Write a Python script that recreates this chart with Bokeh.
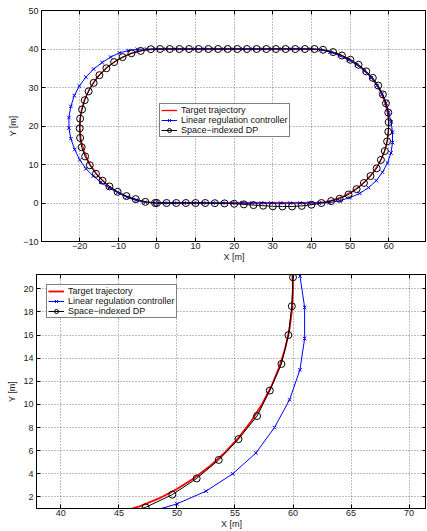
from bokeh.plotting import figure
from bokeh.layouts import column, row
from bokeh.models import Range1d, FixedTicker, LinearAxis
from bokeh.embed import file_html
from bokeh.resources import INLINE

# ---------------- data ----------------
# Target trajectory (stadium track)
target_x = [0, 10, 20, 30, 40, 41.74, 43.47, 45.18, 46.84, 48.45, 50.0, 51.47, 52.86, 54.14, 55.32,
            56.38, 57.32, 58.13, 58.79, 59.32, 59.70, 59.92, 60.0, 59.92, 59.70, 58.79, 57.32, 55.32,
            52.86, 50.0, 46.84, 43.47, 40, 30, 20, 10, 0, -3.47, -6.84, -10.0, -12.86, -15.32, -17.32,
            -18.79, -19.70, -20.0, -19.70, -18.79, -17.32, -15.32, -12.86, -10.0, -6.84, -3.47, 0]
target_y = [0, 0, 0, 0, 0, 0.08, 0.30, 0.68, 1.21, 1.87, 2.68, 3.62, 4.68, 5.86, 7.14,
            8.53, 10.0, 11.55, 13.16, 14.82, 16.53, 18.26, 20.0, 21.74, 23.47, 26.84, 30.0, 32.86,
            35.32, 37.32, 38.79, 39.70, 40, 40, 40, 40, 40, 39.70, 38.79, 37.32, 35.32, 32.86, 30.0,
            26.84, 23.47, 20.0, 16.53, 13.16, 10.0, 7.14, 4.68, 2.68, 1.21, 0.30, 0]

# Linear regulation controller
lin_x = [-0.5, 2.0, 4.5, 7.0, 9.5, 12.0, 14.5, 17.0, 19.5, 22.0, 24.5, 27.0, 29.5, 32.0, 34.5, 37.0,
         39.5, 42.0, 44.6, 47.3, 50.0, 52.5, 54.8, 56.8, 58.4, 59.7, 60.6, 61.0, 61.0, 60.6, 60.0,
         59.3, 58.3, 57.0, 55.5, 53.7, 51.7, 49.5, 47.2, 44.8, 42.3, 39.8, 37.3, 34.8, 32.3, 29.8,
         27.3, 24.8, 22.3, 19.8, 17.3, 14.8, 12.3, 9.8, 7.3, 4.8, 2.3, -0.2, -2.7, -5.1, -7.4, -9.7,
         -12.0, -14.2, -16.4, -18.4, -20.1, -21.4, -22.3, -22.8, -22.8, -22.3, -21.3, -20.0, -18.4,
         -16.5, -14.5, -12.4, -10.2, -7.8, -5.4, -3.0]
lin_y = [0, 0, 0, 0, 0, 0, 0, 0, 0, 0, 0, 0, 0, 0, 0, 0,
         0, 0, 0.1, 0.6, 1.4, 2.5, 4.0, 5.8, 8.0, 10.4, 13.0, 15.7, 18.4, 21.1, 23.6,
         26.0, 28.3, 30.5, 32.5, 34.3, 35.9, 37.2, 38.3, 39.2, 39.8, 40.0, 40.0, 40.0, 40.0, 40.0,
         40.0, 40.0, 40.0, 40.0, 40.0, 40.0, 40.0, 40.0, 40.0, 40.0, 40.0, 40.0, 40.0, 39.9, 39.6, 39.0,
         37.9, 36.5, 34.8, 32.7, 30.4, 27.9, 25.1, 22.2, 19.5, 16.7, 13.9, 11.2, 8.9,
         7.0, 5.4, 3.9, 2.7, 1.5, 0.7, 0.2]

# Space-indexed DP
dp_x = [0, 2.5, 5.0, 7.5, 10.0, 12.5, 15.0, 17.5, 20.0, 22.5, 25.0, 27.5, 30.0, 32.5, 35.0, 37.5,
        40.0, 42.6, 45.1, 47.3, 49.6, 51.7, 53.6, 55.3, 56.9, 58.0, 59.0, 59.6, 59.9, 60.0, 59.9,
        59.3, 58.5, 57.3, 55.9, 54.2, 52.2, 50.1, 47.9, 45.6, 43.0, 40.8, 38.3, 35.8, 33.3, 30.8,
        28.3, 25.8, 23.3, 20.8, 18.3, 15.8, 13.3, 10.8, 8.3, 5.8, 3.3, 0.8, -1.6, -4.2, -6.6, -8.9,
        -11.1, -13.1, -14.9, -16.4, -17.7, -18.7, -19.4, -19.9, -20.0, -19.9, -19.5, -18.6, -17.4,
        -15.8, -14.1, -12.3, -10.2, -7.9, -5.5, -3.0, -0.5]
dp_y = [0, 0, 0, 0, 0, 0, -0.05, -0.1, -0.2, -0.35, -0.55, -0.7, -0.85, -0.9, -0.9, -0.75,
        -0.45, 0.0, 0.5, 1.1, 2.2, 3.6, 5.2, 7.0, 9.0, 11.2, 13.5, 16.0, 18.5, 21.0, 23.5,
        25.9, 28.2, 30.5, 32.5, 34.2, 35.9, 37.2, 38.3, 39.2, 39.8, 40.0, 40.0, 40.0, 40.0, 40.0,
        40.0, 40.0, 40.0, 40.0, 40.0, 40.0, 40.0, 40.0, 40.0, 40.0, 40.0, 40.0, 39.95, 39.5, 38.9, 37.9,
        36.6, 35.0, 33.2, 31.2, 29.0, 26.7, 24.3, 21.9, 19.4, 16.9, 14.5, 12.1, 9.8,
        7.6, 5.8, 4.3, 2.9, 1.8, 1.0, 0.3, 0.0]

labels = ["Target trajectory", "Linear regulation controller", "Space\u2212indexed DP"]

top_xticks = [-20, -10, 0, 10, 20, 30, 40, 50, 60]
top_yticks = [-10, 0, 10, 20, 30, 40, 50]
top_overrides = {-20: "\u221220", -10: "\u221210"}
bot_xticks = [40, 45, 50, 55, 60, 65, 70]
bot_yticks = [2, 4, 6, 8, 10, 12, 14, 16, 18, 20]

FONT = "Liberation Sans"


def style(p, xticks, yticks, overrides, lstand, xstand):
    p.xaxis.ticker = FixedTicker(ticks=xticks)
    p.yaxis.ticker = FixedTicker(ticks=yticks)
    p.xaxis.major_label_overrides = dict(overrides)
    p.yaxis.major_label_overrides = dict(overrides)
    for ax in (p.xaxis[0], p.yaxis[0]):
        ax.major_tick_in = 4
        ax.major_tick_out = 0
        ax.minor_tick_line_color = None
        ax.axis_line_color = "black"
        ax.major_tick_line_color = "black"
        ax.major_label_text_font = FONT
        ax.major_label_text_font_size = "9px"
        ax.major_label_text_color = "#222222"
        ax.axis_label_text_font = FONT
        ax.axis_label_text_font_size = "9px"
        ax.axis_label_text_font_style = "normal"
        ax.axis_label_text_color = "#222222"
        ax.major_label_standoff = 3
    p.xaxis.axis_label = "X [m]"
    p.yaxis.axis_label = "Y [m]"
    p.xaxis.axis_label_standoff = 0
    p.yaxis.axis_label_standoff = lstand
    p.xaxis.major_label_standoff = xstand
    # mirrored ticks on top and right (no labels drawn)
    for side, ticks in (("above", xticks), ("right", yticks)):
        ax = LinearAxis(ticker=FixedTicker(ticks=ticks), major_label_text_font_size="1px",
                        major_label_text_color=None, major_label_standoff=0,
                        major_tick_in=4, major_tick_out=0,
                        minor_tick_line_color=None, axis_line_color="black")
        p.add_layout(ax, side)
    p.outline_line_color = "black"
    p.outline_line_width = 1
    for g in (p.xgrid, p.ygrid):
        g.grid_line_color = "black"
        g.grid_line_alpha = 0.5
        g.grid_line_dash = "1 2"
        g.grid_line_width = 1
    p.background_fill_color = "white"
    p.border_fill_color = "white"


def draw(p, red_w):
    p.line(target_x, target_y, line_color="#ff0000", line_width=red_w, legend_label=labels[0])
    p.line(lin_x, lin_y, line_color="#0000ff", line_width=1, legend_label=labels[1])
    p.scatter(lin_x, lin_y, marker="x", size=5, line_color="#0000ff", line_width=1,
              legend_label=labels[1])
    p.line(dp_x, dp_y, line_color="black", line_width=1, legend_label=labels[2])
    p.scatter(dp_x, dp_y, marker="circle", size=7, fill_color=None, line_color="black",
              line_width=1, legend_label=labels[2])


def style_legend(p):
    lg = p.legend[0]
    lg.label_text_font = FONT
    lg.label_text_font_size = "9px"
    lg.label_text_color = "#111111"
    lg.glyph_width = 16
    lg.glyph_height = 10
    lg.label_height = 10
    lg.label_standoff = 4
    lg.padding = 1
    lg.spacing = 0
    lg.border_line_color = "black"
    lg.border_line_width = 1.3
    lg.background_fill_color = "white"
    lg.background_fill_alpha = 1


p1 = figure(frame_width=385, frame_height=231, x_range=Range1d(-29.9, 69.8),
            y_range=Range1d(-10, 50), output_backend="svg", toolbar_location=None,
            min_border_left=41, min_border_right=0, min_border_top=10, min_border_bottom=24)
style(p1, top_xticks, top_yticks, top_overrides, 2, 1)
draw(p1, 1.3)
style_legend(p1)
p1.legend[0].location = (118, 104)

p2 = figure(frame_width=390, frame_height=234, x_range=Range1d(37.9, 71.5),
            y_range=Range1d(1.0, 21.24), output_backend="svg", toolbar_location=None,
            min_border_left=36, min_border_right=0, min_border_top=9, min_border_bottom=22)
style(p2, bot_xticks, bot_yticks, {}, 3, 1)
draw(p2, 1.8)
style_legend(p2)
p2.legend[0].location = "top_left"
p2.legend[0].margin = 10

layout = column(row(p1), row(p2), spacing=0)
open("out.html", "w").write(file_html(layout, INLINE))
